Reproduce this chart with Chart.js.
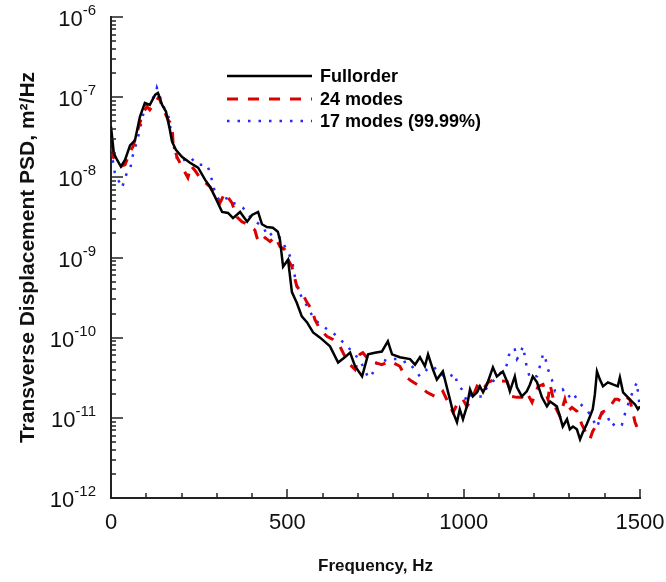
<!DOCTYPE html>
<html>
<head>
<meta charset="utf-8">
<script src="https://cdn.jsdelivr.net/npm/chart.js@4.4.1/dist/chart.umd.min.js"></script>
<style>
  html, body { margin: 0; padding: 0; background: #fff; }
</style>
</head>
<body>
<canvas id="psdChart" width="666" height="582"></canvas>
<script>
// Fullorder
const fullFreq = [0, 8, 17, 28, 40, 54, 68, 82, 96, 110, 125, 133, 145, 156, 167, 173, 184, 201, 224, 247,
  267, 281, 295, 315, 332, 346, 366, 386, 400, 417, 428, 442, 459, 473, 479, 488, 502, 513, 527, 541,
  556, 573, 593, 621, 644, 663, 678, 692, 712, 729, 748, 768, 785, 797, 819, 848, 862, 876, 890, 899,
  913, 924, 941, 961, 970, 981, 989, 998, 1009, 1018, 1026, 1038, 1046, 1055, 1066, 1083, 1094, 1111, 1123, 1131,
  1145, 1151, 1165, 1179, 1188, 1196, 1208, 1222, 1236, 1245, 1264, 1273, 1281, 1293, 1301, 1310, 1321, 1330, 1338, 1349,
  1358, 1366, 1372, 1378, 1386, 1395, 1409, 1423, 1437, 1443, 1452, 1463, 1471, 1486, 1494, 1500];
const fullPsd = [4.3e-8, 2.0e-8, 1.66e-8, 1.36e-8, 1.66e-8, 2.5e-8, 2.9e-8, 5.7e-8, 8.5e-8, 8.0e-8,
  1.07e-7, 1.13e-7, 8.0e-8, 6.6e-8, 3.9e-8, 2.8e-8, 2.2e-8, 1.8e-8, 1.52e-8, 1.32e-8,
  9.3e-9, 7.6e-9, 5.7e-9, 3.7e-9, 3.6e-9, 3.1e-9, 3.7e-9, 2.8e-9, 3.4e-9, 3.7e-9,
  2.6e-9, 2.4e-9, 2.35e-9, 2.1e-9, 1.67e-9, 7.7e-10, 9.4e-10, 3.7e-10, 2.7e-10, 1.84e-10,
  1.55e-10, 1.16e-10, 1.0e-10, 7.8e-11, 4.9e-11, 5.7e-11, 6.5e-11, 4.4e-11, 3.3e-11, 6.2e-11,
  6.5e-11, 6.7e-11, 9.0e-11, 6.2e-11, 5.7e-11, 5.4e-11, 4.6e-11, 5.7e-11, 4.4e-11, 6.2e-11,
  4.0e-11, 3.0e-11, 3.8e-11, 1.7e-11, 1.17e-11, 8.8e-12, 1.28e-11, 9.6e-12, 1.39e-11, 2.26e-11,
  1.85e-11, 2.08e-11, 2.47e-11, 2.08e-11, 2.61e-11, 4.26e-11, 3.29e-11, 3.79e-11, 2.85e-11, 2.14e-11,
  3.29e-11, 2.4e-11, 1.85e-11, 2.14e-11, 2.61e-11, 3.29e-11, 2.77e-11, 1.8e-11, 1.39e-11, 1.6e-11,
  1.39e-11, 1.04e-11, 7.8e-12, 9.6e-12, 7.2e-12, 7.8e-12, 7.2e-12, 5.4e-12, 6.6e-12, 8.3e-12,
  1.04e-11, 1.28e-11, 1.96e-11, 3.79e-11, 3.02e-11, 2.47e-11, 2.77e-11, 2.61e-11, 2.47e-11, 3.19e-11,
  2.08e-11, 1.85e-11, 1.7e-11, 1.47e-11, 1.28e-11, 1.39e-11];

// 24 modes
const m24Freq = [0, 6, 17, 26, 40, 54, 62, 82, 91, 102, 110, 125, 136, 145, 153, 162, 173, 176, 187, 201,
  218, 227, 241, 252, 267, 281, 295, 309, 323, 343, 357, 371, 388, 408, 414, 422, 437, 451, 465, 479,
  493, 502, 513, 527, 541, 556, 570, 578, 593, 612, 629, 649, 672, 692, 706, 714, 734, 768, 791, 819,
  834, 853, 876, 896, 924, 941, 961, 970, 984, 998, 1009, 1023, 1040, 1055, 1069, 1089, 1103, 1123, 1137, 1151,
  1165, 1179, 1194, 1211, 1225, 1239, 1245, 1259, 1273, 1287, 1296, 1307, 1321, 1335, 1349, 1358, 1366, 1378, 1392, 1409,
  1429, 1437, 1449, 1457, 1471, 1486, 1494, 1500];
const m24Psd = [2.3e-8, 1.8e-8, 1.52e-8, 1.36e-8, 1.44e-8, 2.1e-8, 2.4e-8, 4.8e-8, 6.4e-8, 7.6e-8,
  6.95e-8, 8.5e-8, 1.01e-7, 7.6e-8, 6.4e-8, 5.2e-8, 4.5e-8, 2.7e-8, 1.8e-8, 1.36e-8,
  9.9e-9, 1.4e-8, 1.17e-8, 9.9e-9, 8.6e-9, 7.6e-9, 6.1e-9, 4.8e-9, 6.4e-9, 4.8e-9,
  3.2e-9, 2.8e-9, 2.6e-9, 2.2e-9, 1.77e-9, 1.53e-9, 1.77e-9, 1.58e-9, 1.82e-9, 1.37e-9,
  1.25e-9, 9.4e-10, 7.7e-10, 4.35e-10, 3.66e-10, 2.74e-10, 2.24e-10, 1.69e-10, 1.26e-10, 1.04e-10,
  9.5e-11, 7.8e-11, 4.9e-11, 4.0e-11, 6.2e-11, 6.5e-11, 5.1e-11, 4.6e-11, 5.1e-11, 4.4e-11,
  3.3e-11, 2.85e-11, 2.47e-11, 2.08e-11, 1.8e-11, 2.14e-11, 1.39e-11, 1.17e-11, 1.56e-11, 1.7e-11,
  1.39e-11, 1.7e-11, 2.61e-11, 2.26e-11, 2.77e-11, 3.02e-11, 2.9e-11, 2.85e-11, 1.85e-11, 1.8e-11,
  1.8e-11, 2.08e-11, 1.56e-11, 2.47e-11, 2.61e-11, 1.7e-11, 2.61e-11, 1.39e-11, 1.04e-11, 1.7e-11,
  1.21e-11, 1.35e-11, 1.21e-11, 8.3e-12, 6.2e-12, 5.4e-12, 6.8e-12, 8.3e-12, 1.17e-11, 1.28e-11,
  1.7e-11, 1.7e-11, 1.6e-11, 1.85e-11, 1.7e-11, 8.8e-12, 7.2e-12, 6.6e-12];

// 17 modes (99.99%)
const m17Freq = [0, 11, 31, 45, 54, 60, 77, 91, 96, 110, 125, 130, 139, 153, 162, 173, 181, 190, 210, 224,
  244, 272, 281, 295, 309, 332, 346, 360, 374, 394, 414, 431, 445, 459, 479, 493, 513, 522, 530, 544,
  559, 573, 593, 615, 629, 649, 672, 686, 700, 720, 729, 740, 754, 768, 782, 797, 811, 828, 839, 856,
  876, 896, 913, 933, 953, 961, 975, 981, 989, 998, 1009, 1023, 1038, 1052, 1066, 1083, 1103, 1117, 1126, 1131,
  1145, 1151, 1160, 1168, 1174, 1179, 1188, 1196, 1208, 1216, 1225, 1230, 1236, 1250, 1259, 1273, 1281, 1296, 1310, 1324,
  1338, 1352, 1366, 1378, 1386, 1395, 1409, 1420, 1434, 1449, 1457, 1471, 1480, 1491, 1500];
const m17Psd = [2.2e-8, 1.14e-8, 7.4e-9, 1.14e-8, 1.22e-8, 1.75e-8, 3.2e-8, 6.0e-8, 7.6e-8, 8.5e-8,
  1.07e-7, 1.31e-7, 1.01e-7, 6.95e-8, 6.0e-8, 3.2e-8, 2.08e-8, 1.56e-8, 1.66e-8, 1.8e-8,
  1.44e-8, 1.44e-8, 1.14e-8, 6.4e-9, 5.0e-9, 5.6e-9, 4.8e-9, 4.56e-9, 4.18e-9, 3.24e-9,
  2.72e-9, 2.43e-9, 1.82e-9, 2.04e-9, 1.77e-9, 1.37e-9, 9.4e-10, 5.6e-10, 4.0e-10, 3.0e-10,
  2.38e-10, 1.78e-10, 1.46e-10, 1.26e-10, 1.16e-10, 9.5e-11, 7.8e-11, 6.2e-11, 5.7e-11, 4.0e-11,
  3.15e-11, 3.45e-11, 4.9e-11, 5.4e-11, 5.1e-11, 5.4e-11, 5.4e-11, 4.9e-11, 5.1e-11, 4.26e-11,
  3.29e-11, 4.0e-11, 4.4e-11, 3.58e-11, 3.11e-11, 3.29e-11, 3.58e-11, 2.77e-11, 2.47e-11, 2.14e-11,
  1.6e-11, 1.96e-11, 1.85e-11, 1.85e-11, 2.4e-11, 2.85e-11, 3.58e-11, 4.0e-11, 5.1e-11, 7.1e-11,
  7.1e-11, 5.4e-11, 6.2e-11, 7.8e-11, 5.7e-11, 4.26e-11, 3.15e-11, 3.29e-11, 3.29e-11, 4.4e-11,
  6.2e-11, 6.2e-11, 4.4e-11, 3.0e-11, 2.14e-11, 2.08e-11, 2.26e-11, 1.8e-11, 2.08e-11, 1.6e-11,
  1.39e-11, 1.21e-11, 9.6e-12, 7.6e-12, 9.6e-12, 1.17e-11, 1.01e-11, 7.8e-12, 9.0e-12, 8.3e-12,
  1.11e-11, 1.7e-11, 2.14e-11, 2.77e-11, 1.28e-11];

const xTicks = [0, 500, 1000, 1500];
const yDecades = [-12, -11, -10, -9, -8, -7, -6];

const FONT = "'Liberation Sans', Arial, sans-serif";

function toPoints(xs, ys) {
  return xs.map((f, i) => ({ x: f, y: ys[i] }));
}

// minor/major ticks inside the axes, 10^n labels on the y axis, legend
const axisDecor = {
  id: 'axisDecor',
  afterDraw(chart) {
    const { ctx, chartArea } = chart;
    const x = chart.scales.x;
    const y = chart.scales.y;
    ctx.save();
    ctx.strokeStyle = '#222';
    ctx.lineWidth = 1.5;

    yDecades.forEach(k => {
      for (let m = 1; m <= 9; m++) {
        if (k === -6 && m > 1) break;
        const py = Math.round(y.getPixelForValue(m * Math.pow(10, k)));
        const len = m === 1 ? 12 : 5;
        ctx.beginPath();
        ctx.moveTo(chartArea.left, py);
        ctx.lineTo(chartArea.left + len, py);
        ctx.stroke();
      }
    });

    for (let f = 0; f <= 1500; f += 100) {
      const px = Math.round(x.getPixelForValue(f));
      const len = f % 500 === 0 ? 9 : 5;
      ctx.beginPath();
      ctx.moveTo(px, chartArea.bottom);
      ctx.lineTo(px, chartArea.bottom - len);
      ctx.stroke();
    }

    // y tick labels
    ctx.fillStyle = '#111';
    ctx.textAlign = 'right';
    ctx.textBaseline = 'alphabetic';
    yDecades.forEach(k => {
      const py = y.getPixelForValue(Math.pow(10, k));
      const exp = String(k);
      ctx.font = '15px ' + FONT;
      const ew = ctx.measureText(exp).width;
      ctx.fillText(exp, 96, py - 2);
      ctx.font = '22px ' + FONT;
      ctx.fillText('10', 96 - ew, py + 9);
    });

    // legend
    const rows = [76, 99, 121];
    chart.data.datasets.forEach((ds, i) => {
      const ly = rows[i];
      ctx.strokeStyle = ds.borderColor;
      ctx.lineWidth = ds.borderWidth;
      ctx.setLineDash(ds.borderDash || []);
      ctx.beginPath();
      ctx.moveTo(227, ly);
      ctx.lineTo(312, ly);
      ctx.stroke();
      ctx.setLineDash([]);
      ctx.fillStyle = '#000';
      ctx.textAlign = 'left';
      ctx.textBaseline = 'middle';
      ctx.font = 'bold 18px ' + FONT;
      ctx.fillText(ds.label, 320, ly + 1);
    });
    ctx.restore();
  }
};

const psdData = {
  datasets: [{
    label: 'Fullorder',
    data: toPoints(fullFreq, fullPsd),
    borderColor: '#000000',
    borderWidth: 2.5,
    borderDash: [],
  }, {
    label: '24 modes',
    data: toPoints(m24Freq, m24Psd),
    borderColor: 'rgb(220, 0, 0)',
    borderWidth: 3,
    borderDash: [11, 10],
  }, {
    label: '17 modes (99.99%)',
    data: toPoints(m17Freq, m17Psd),
    borderColor: 'rgb(40, 40, 255)',
    borderWidth: 2.5,
    borderDash: [2.5, 8],
  }]
};

const psdConfig = {
  type: 'line',
  data: psdData,
  options: {
    responsive: false,
    animation: false,
    devicePixelRatio: 1,
    layout: { padding: { top: 17, right: 26, left: 0, bottom: 0 } },
    elements: { point: { radius: 0 }, line: { tension: 0 } },
    scales: {
      x: {
        type: 'linear',
        min: 0,
        max: 1500,
        grid: { display: false, drawTicks: false },
        border: { display: true, color: '#222', width: 2 },
        ticks: {
          stepSize: 500,
          maxRotation: 0,
          padding: 12,
          color: '#111',
          font: { family: FONT, size: 22 },
          callback: v => xTicks.includes(v) ? String(v) : ''
        },
        title: {
          display: true,
          text: 'Frequency, Hz',
          color: '#111',
          font: { family: FONT, size: 17, weight: 'bold' },
          padding: { top: 4, bottom: 5 }
        },
        afterFit: s => {
          s.height = 84;
          s.paddingLeft = 0;
          s.paddingRight = 0;
        }
      },
      y: {
        type: 'logarithmic',
        min: 1e-12,
        max: 1e-6,
        grid: { display: false, drawTicks: false },
        border: { display: true, color: '#222', width: 2 },
        ticks: { display: false },
        title: {
          display: true,
          text: 'Transverse Displacement PSD, m²/Hz',
          color: '#111',
          font: { family: FONT, size: 21, weight: 'bold' },
          padding: { top: 16, bottom: 0 }
        },
        afterFit: s => { s.width = 111; }
      }
    },
    plugins: {
      legend: { display: false },
      tooltip: { enabled: false }
    }
  },
  plugins: [axisDecor]
};

const psdChart = new Chart(document.getElementById('psdChart'), psdConfig);
</script>
</body>
</html>
